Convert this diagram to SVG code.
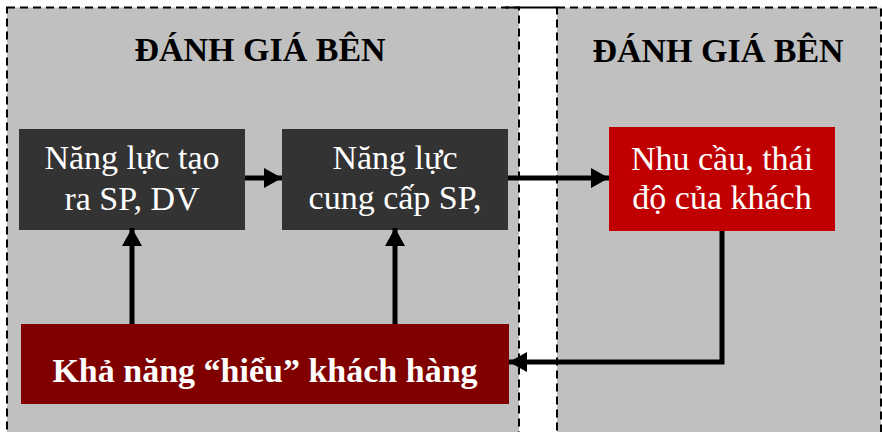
<svg xmlns="http://www.w3.org/2000/svg" width="882" height="432" viewBox="0 0 882 432">
  <style>
    .panel { fill: #c0c0c0; stroke: #000; stroke-width: 2; stroke-dasharray: 8 5; }
    .title { font-family: "Liberation Serif", "Times New Roman", serif; font-weight: bold; font-size: 34px; fill: #000; text-anchor: middle; }
    .label { font-family: "Liberation Serif", "Times New Roman", serif; font-size: 34px; fill: #fff; text-anchor: middle; }
    .bold { font-weight: bold; }
    .link { fill: none; stroke: #000; stroke-width: 5; }
  </style>
  <defs>
    <marker id="arrow" markerUnits="userSpaceOnUse" markerWidth="20" markerHeight="20" viewBox="0 0 20 20" refX="18" refY="10" orient="auto">
      <path d="M0,0 L18,10 L0,20 Z" fill="#000"/>
    </marker>
  </defs>

  <rect width="882" height="432" fill="#fff"/>

  <!-- two assessment panels -->
  <g id="panel-left">
    <rect class="panel" x="7" y="7.5" width="512" height="440"/>
    <text class="title" x="260" y="61">ĐÁNH GIÁ BÊN</text>
  </g>
  <g id="panel-right">
    <rect class="panel" x="557" y="7.5" width="324" height="440"/>
    <text class="title" x="718" y="62">ĐÁNH GIÁ BÊN</text>
  </g>
  <line x1="505" y1="7.5" x2="557" y2="7.5" stroke="#000" stroke-width="2"/>

  <g id="node-produce">
    <rect x="19" y="129" width="226" height="101" fill="#333333"/>
    <text class="label" x="132" y="169">Năng lực tạo</text>
    <text class="label" x="132" y="210">ra SP, DV</text>
  </g>

  <g id="node-supply">
    <rect x="282" y="129" width="226" height="101" fill="#333333"/>
    <text class="label" x="395" y="169">Năng lực</text>
    <text class="label" x="395" y="209">cung cấp SP,</text>
  </g>

  <g id="node-needs">
    <rect x="609" y="127" width="226" height="104" fill="#c00000"/>
    <text class="label" x="722" y="170">Nhu cầu, thái</text>
    <text class="label" x="722" y="209">độ của khách</text>
  </g>

  <g id="node-understand">
    <rect x="21" y="324" width="488" height="80" fill="#800000"/>
    <text class="label bold" x="265" y="382">Khả năng “hiểu” khách hàng</text>
  </g>

  <g id="connectors">
    <line class="link" x1="245" y1="178" x2="282" y2="178" marker-end="url(#arrow)"/>
    <line class="link" x1="508" y1="178" x2="609" y2="178" marker-end="url(#arrow)"/>
    <line class="link" x1="132" y1="324" x2="132" y2="228" marker-end="url(#arrow)"/>
    <line class="link" x1="395" y1="324" x2="395" y2="228" marker-end="url(#arrow)"/>
    <polyline class="link" points="722,231 722,362 509,362" marker-end="url(#arrow)"/>
  </g>
</svg>
